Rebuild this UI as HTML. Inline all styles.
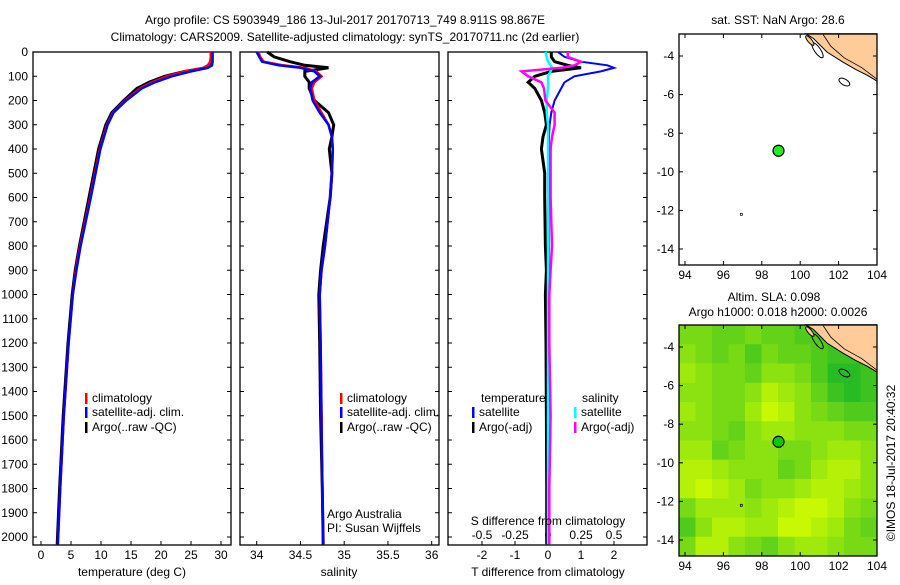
<!DOCTYPE html>
<html><head><meta charset="utf-8"><style>
body{margin:0;background:#fff;width:900px;height:580px;overflow:hidden;font-family:"Liberation Sans",sans-serif}
svg text{font-family:"Liberation Sans",sans-serif;font-size:12px;fill:#000}
</style></head><body>
<svg id="c" width="900" height="580"></svg>
<script>
// ---- data ----
const depthTicks=[0,100,200,300,400,500,600,700,800,900,1000,1100,1200,1300,1400,1500,1600,1700,1800,1900,2000];
const tempTicks=[0,5,10,15,20,25,30];
const salTicks=[34,34.5,35,35.5,36];
const tdTicks=[-2,-1,0,1,2];
const sdTicks=[-0.5,-0.25,0,0.25,0.5];
const sdTickLabels=["-0.5","-0.25","0","0.25","0.5"];
const lonTicks=[94,96,98,100,102,104];
const latTicks=[-4,-6,-8,-10,-12,-14];
const depths=[0,20,40,55,65,80,100,125,150,200,250,300,350,400,500,600,800,900,1000,1200,1500,1800,2030];
const tempClim=[28.3,28.3,28.2,27.8,27.0,24.0,21.0,18.5,16.5,14.0,12.0,11.0,10.4,9.8,9.0,8.2,6.5,5.8,5.3,4.6,3.8,3.2,2.8];
const tempSat=[28.6,28.6,28.6,28.5,27.8,25.0,21.8,19.0,16.8,14.2,12.1,11.1,10.5,9.9,9.1,8.3,6.6,5.9,5.3,4.6,3.8,3.2,2.8];
const tempArgo=[28.4,28.4,28.4,28.3,27.6,24.0,20.6,18.0,16.0,13.8,11.8,10.8,10.2,9.6,8.8,8.0,6.4,5.7,5.2,4.5,3.7,3.1,2.7];
const salClim=[34.02,34.04,34.08,34.3,34.55,34.68,34.74,34.66,34.63,34.66,34.74,34.82,34.86,34.87,34.86,34.84,34.78,34.74,34.72,34.73,34.74,34.75,34.76];
const salSat=[34.0,34.03,34.06,34.25,34.5,34.66,34.72,34.63,34.61,34.64,34.72,34.82,34.86,34.87,34.86,34.84,34.78,34.74,34.72,34.73,34.74,34.75,34.76];
const salArgo=[34.12,34.2,34.38,34.55,34.82,34.55,34.55,34.6,34.6,34.66,34.82,34.88,34.86,34.83,34.86,34.84,34.76,34.73,34.71,34.72,34.73,34.75,34.76];
const tdSat=[0.3,0.5,1.0,1.8,2.0,1.6,0.8,0.5,0.4,0.2,0.1,0.05,0.03,0.02,0.02,0.02,0.02,0.02,0.01,0.01,0.01,0.01,0.01];
const tdArgo=[0.1,0.1,0.2,0.6,1.0,0.1,-0.4,-0.6,-0.4,-0.2,-0.1,-0.05,-0.15,-0.2,-0.1,-0.1,-0.08,-0.05,-0.08,-0.06,-0.05,-0.04,-0.04];
const sdSat=[-0.02,-0.01,0,0.02,0.03,0.02,0,0,0,-0.01,-0.01,0,0,0,0,0,0,0,0,0,0,0,0];
const sdArgo=[0.15,0.15,0.25,0.2,0.1,-0.2,-0.15,-0.05,-0.03,-0.02,0.05,0.05,0.03,0.02,0.02,0.02,0.03,0.02,0.01,0.01,0.02,0.01,0.01];
const argoLon=98.87, argoLat=-8.91;
const landLon=[100.3,100.7,101.4,102.2,102.9,103.5,104,104,100.3];
const landLat=[-2.85,-3.1,-3.8,-4.3,-4.7,-5.0,-5.3,-2.85,-2.85];
const slaGrid=[
[.5,.5,.4,.4,.5,.4,.4,.3,.3,.3,.2,.2],
[.6,.5,.4,.5,.3,.5,.4,.4,.3,.2,.2,.2],
[.7,.6,.5,.5,.4,.6,.6,.5,.3,.1,.1,.2],
[.6,.6,.5,.5,.6,.8,.7,.6,.4,.2,.1,.2],
[.7,.6,.5,.5,.7,.9,.8,.6,.5,.4,.3,.3],
[.6,.6,.5,.4,.6,.7,.7,.6,.6,.6,.5,.5],
[.7,.7,.4,.5,.6,.6,.5,.5,.6,.7,.7,.6],
[.8,.8,.7,.6,.6,.6,.4,.5,.7,.8,.8,.6],
[.8,.9,.8,.7,.5,.6,.6,.7,.8,.8,.7,.6],
[.5,.7,.7,.7,.6,.7,.8,.9,.9,.8,.6,.5],
[.3,.6,.8,.8,.7,.7,.9,.9,.8,.7,.5,.4],
[.5,.8,.8,.6,.5,.4,.6,.7,.7,.6,.5,.5]];
// ---- drawing ----
const S=document.getElementById('c'),NS='http://www.w3.org/2000/svg';
function el(t,a,p){const e=document.createElementNS(NS,t);for(const k in a)e.setAttribute(k,a[k]);(p||S).appendChild(e);return e;}
function tx(x,y,s,anchor,p){const e=el('text',{x:x,y:y,'text-anchor':anchor||'middle'},p);e.textContent=s;return e;}
const TOP=52,BOT=545,yD=d=>52+d*0.2425;
function T(x,y,s,name,anchor){const e=tx(x,y,s,anchor);return e;}
T(345,24,'Argo profile: CS 5903949_186 13-Jul-2017 20170713_749 8.911S 98.867E','title-line-1');
T(345,41,'Climatology: CARS2009. Satellite-adjusted climatology: synTS_20170711.nc (2d earlier)','title-line-2');
function panel(x0,x1,name){const g=el('g',{});
 el('rect',{x:x0,y:TOP,width:x1-x0,height:BOT-TOP,fill:'none',stroke:'#000','stroke-width':1.3},g);
 depthTicks.forEach(d=>{el('line',{x1:x0,x2:x0+4,y1:yD(d),y2:yD(d),stroke:'#000'},g);el('line',{x1:x1,x2:x1-4,y1:yD(d),y2:yD(d),stroke:'#000'},g);});
 return g;}
function line(g,xs,f,col,w,name){const p=el('polyline',{points:xs.map((v,i)=>f(v).toFixed(1)+','+yD(depths[i]).toFixed(1)).join(' '),fill:'none',stroke:col,'stroke-width':w},g);}
// panel 1
const g1=panel(33,231,'temperature-panel');const xT=v=>41+v*6;
const ya=el('g',{});
depthTicks.forEach(d=>tx(28,yD(d)+4,String(d),'end',ya));
tempTicks.forEach(v=>{el('line',{x1:xT(v),x2:xT(v),y1:BOT,y2:BOT-4,stroke:'#000'},g1);tx(xT(v),559,String(v),'middle',g1);});
T(132,576,'temperature (deg C)','temperature-axis-title');
line(g1,tempArgo,xT,'#000',3,'temp-argo-line');line(g1,tempClim,xT,'#f00',2.5,'temp-climatology-line');line(g1,tempSat,xT,'#00f',2.5,'temp-satellite-line');
function legend(g,x,y,col,label,name){const l=el('g',{},g);el('rect',{x:x,y:y-9,width:2.5,height:11,fill:col},l);tx(x+7,y,label,'start',l);}
legend(g1,85,402,'#f00','climatology','legend-climatology');legend(g1,85,416,'#00f','satellite-adj. clim.','legend-satellite');legend(g1,85,431,'#000','Argo(..raw -QC)','legend-argo');
// panel 2
const g2=panel(240,439,'salinity-panel');const xS=v=>256.7+(v-34)*87.5;
salTicks.forEach(v=>{el('line',{x1:xS(v),x2:xS(v),y1:BOT,y2:BOT-4,stroke:'#000'},g2);tx(xS(v),559,String(v),'middle',g2);});
T(339,576,'salinity','salinity-axis-title');
line(g2,salArgo,xS,'#000',3,'sal-argo-line');line(g2,salClim,xS,'#f00',2.5,'sal-climatology-line');line(g2,salSat,xS,'#00f',2.5,'sal-satellite-line');
legend(g2,340,402,'#f00','climatology','legend-climatology-2');legend(g2,340,416,'#00f','satellite-adj. clim.','legend-satellite-2');legend(g2,340,431,'#000','Argo(..raw -QC)','legend-argo-2');
tx(327,518,'Argo Australia','start',g2);tx(327,532,'PI: Susan Wijffels','start',g2);
// panel 3
const g3=panel(448,647,'difference-panel');const xTd=v=>548+v*33,xSd=v=>548+v*132;
tdTicks.forEach(v=>{el('line',{x1:xTd(v),x2:xTd(v),y1:BOT,y2:BOT-4,stroke:'#000'},g3);tx(xTd(v),559,String(v),'middle',g3);});
sdTicks.forEach((v,i)=>{el('line',{x1:xSd(v),x2:xSd(v),y1:BOT,y2:BOT-4,stroke:'#000'},g3);tx(xSd(v),539,sdTickLabels[i],'middle',g3);});
T(548,525,'S difference from climatology','s-diff-axis-title');
T(548,576,'T difference from climatology','t-diff-axis-title');
line(g3,tdSat,xTd,'#00f',2,'tdiff-satellite-line');line(g3,tdArgo,xTd,'#000',3,'tdiff-argo-line');
line(g3,sdSat,xSd,'#0ff',2.5,'sdiff-satellite-line');line(g3,sdArgo,xSd,'#f0f',2.5,'sdiff-argo-line');
tx(481,402,'temperature','start',g3);tx(582,402,'salinity','start',g3);
legend(g3,472,416,'#00f','satellite','legend-t-satellite');legend(g3,472,431,'#000','Argo(-adj)','legend-t-argo');
legend(g3,574,416,'#0ff','satellite','legend-s-satellite');legend(g3,574,431,'#f0f','Argo(-adj)','legend-s-argo');
// maps
function map(top,name,heat){const L=679,R=877,B=top+231;const xL=v=>685+(v-94)*19.2,yL=v=>top+22+(-4-v)*19.3;
 const g=el('g',{});
 if(heat){const nr=slaGrid.length,nc=slaGrid[0].length,cw=(R-L)/nc,ch=(B-top)/nr;
  slaGrid.forEach((row,r)=>row.forEach((v,c)=>{const R1=Math.round(20+v*200),G1=Math.round(180+v*75),B1=Math.round(40-v*40);
   const cell=el('rect',{x:L+c*cw,y:top+r*ch,width:cw+0.5,height:ch+0.5,fill:`rgb(${R1},${G1},${B1})`},g);}));}
 el('polygon',{points:landLon.map((v,i)=>xL(v)+','+yL(landLat[i])).join(' '),fill:'#fc9',stroke:'#000','stroke-width':1},g);
 el('polyline',{points:[[101.2,-2.9],[101.6,-3.5],[102.3,-4.1],[103.2,-4.6],[104,-5.2]].map(p=>xL(p[0])+','+yL(p[1])).join(' '),fill:'none',stroke:'#000','stroke-width':0.8},g);
 el('ellipse',{cx:xL(100.9),cy:yL(-3.7),rx:3,ry:9,transform:`rotate(-35 ${xL(100.9)} ${yL(-3.7)})`,fill:'none',stroke:'#000'},g);
 el('ellipse',{cx:xL(100.5),cy:yL(-3.2),rx:2,ry:6,transform:`rotate(-40 ${xL(100.5)} ${yL(-3.2)})`,fill:'#fc9',stroke:'#000'},g);
 el('ellipse',{cx:xL(102.3),cy:yL(-5.35),rx:6,ry:3,transform:`rotate(30 ${xL(102.3)} ${yL(-5.35)})`,fill:'none',stroke:'#000'},g);
 el('rect',{x:xL(96.88),y:yL(-12.15),width:2,height:2,fill:'none',stroke:'#000','stroke-width':0.7},g);
 const pt=el('circle',{cx:xL(argoLon),cy:yL(argoLat),r:5.5,fill:heat?'#0c0':'#2e2',stroke:'#000','stroke-width':1.2},g);
 el('rect',{x:L,y:top,width:R-L,height:B-top,fill:'none',stroke:'#000','stroke-width':1.3},g);
 lonTicks.forEach(v=>{el('line',{x1:xL(v),x2:xL(v),y1:B,y2:B-4,stroke:'#000'},g);el('line',{x1:xL(v),x2:xL(v),y1:top,y2:top+4,stroke:'#000'},g);tx(xL(v),B+14,String(v),'middle',g);});
 latTicks.forEach(v=>{el('line',{x1:L,x2:L+4,y1:yL(v),y2:yL(v),stroke:'#000'},g);el('line',{x1:R,x2:R-4,y1:yL(v),y2:yL(v),stroke:'#000'},g);tx(L-5,yL(v)+4,String(v),'end',g);});
}
map(34,'sst-map',false);map(325,'sla-map',true);
T(778,24,'sat. SST: NaN Argo: 28.6','sst-map-title');
T(774,301,'Altim. SLA: 0.098','sla-map-title-1');
T(778,316,'Argo h1000: 0.018 h2000: 0.0026','sla-map-title-2');
const cr=T(0,0,'©IMOS 18-Jul-2017 20:40:32','credit-text');cr.setAttribute('transform','translate(895,463) rotate(-90)');
</script>
</body></html>
